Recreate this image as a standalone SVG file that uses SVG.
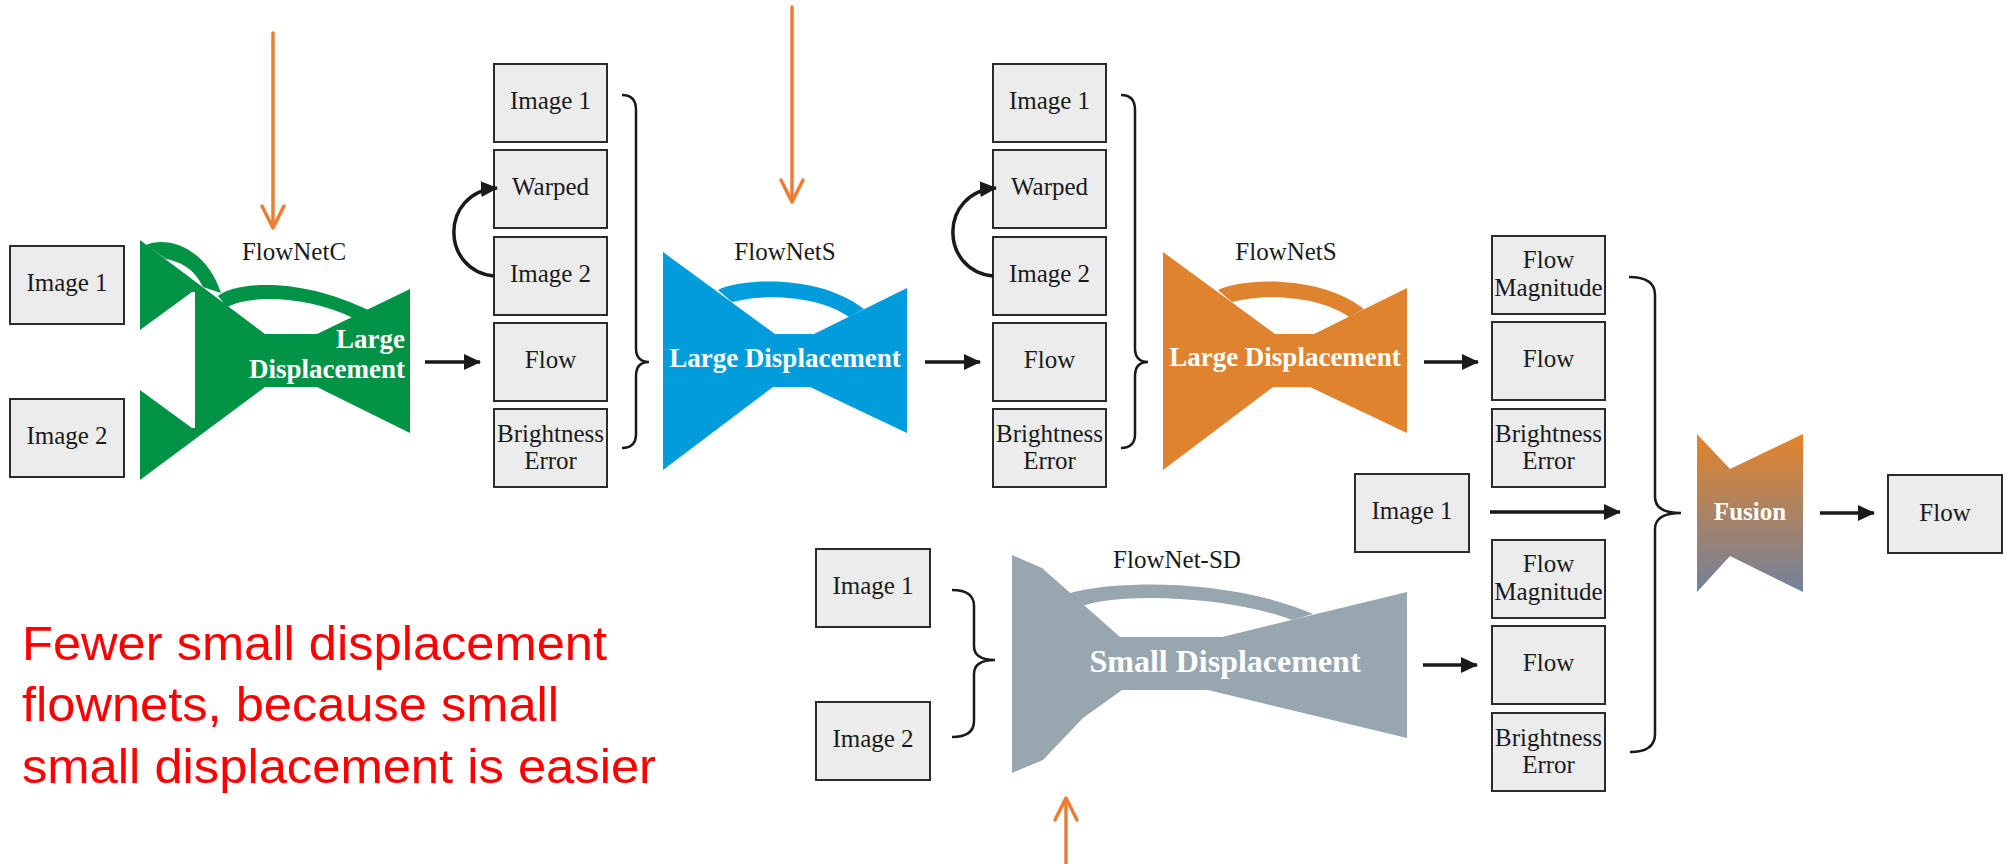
<svg xmlns="http://www.w3.org/2000/svg" width="2007" height="864" viewBox="0 0 2007 864">
<defs>
<style>
.box{fill:#ececec;stroke:#2b2b2b;stroke-width:2}
.lbl{font-family:"Liberation Serif",serif;font-size:25px;fill:#1a1a1a;text-anchor:middle}
.bold{font-family:"Liberation Serif",serif;font-weight:bold;fill:#ffffff;text-anchor:middle}
.conn{stroke:#1a1a1a;stroke-width:3.5;fill:none}
.brace{stroke:#1a1a1a;stroke-width:2.5;fill:none}
.ann{stroke:#ed7d31;stroke-width:3.5;fill:none;stroke-linecap:round;stroke-linejoin:round}
.note{font-family:"Liberation Sans",Arial,sans-serif;font-size:48px;fill:#ff0000}
</style>
<marker id="ah" markerUnits="userSpaceOnUse" markerWidth="17" markerHeight="16" refX="16" refY="8" orient="auto">
<path d="M0,0 L17,8 L0,16 Z" fill="#1a1a1a"/>
</marker>
<linearGradient id="fg" x1="0" y1="0" x2="0" y2="1">
<stop offset="0" stop-color="#e3842c"/>
<stop offset="1" stop-color="#71829c"/>
</linearGradient>
</defs>
<rect width="2007" height="864" fill="#ffffff"/>

<g id="in-image1"><rect class="box" x="10" y="246" width="114" height="78"/><text class="lbl" x="67" y="291">Image 1</text></g>
<g id="in-image2"><rect class="box" x="10" y="399" width="114" height="78"/><text class="lbl" x="67" y="444">Image 2</text></g>

<g id="flownetc" fill="#009245">
<path d="M140,240 L265,334 L317,334 L410,289 L410,433 L317,387 L265,387 L140,480 L140,390 L192,428 L192,292 L140,330 Z"/>
<line x1="193.5" y1="292" x2="193.5" y2="428" stroke="#ffffff" stroke-width="3"/>
<path d="M146,245 C165,236 205,245 221,293 L203,287 C195,271 185,263 166,259 Z"/>
<path d="M218,296 C235,282 300,276 370,311 L353,318 C312,298 255,293 227,307 Z"/>
<text class="lbl" x="294" y="260">FlowNetC</text>
<text class="bold" x="405" y="348" font-size="27" style="text-anchor:end">Large</text>
<text class="bold" x="405" y="378" font-size="27" style="text-anchor:end">Displacement</text>
</g>

<g id="col1">
<rect class="box" x="494" y="64" width="113" height="78"/><text class="lbl" x="550.5" y="109">Image 1</text>
<rect class="box" x="494" y="150" width="113" height="78"/><text class="lbl" x="550.5" y="195">Warped</text>
<rect class="box" x="494" y="237" width="113" height="78"/><text class="lbl" x="550.5" y="282">Image 2</text>
<rect class="box" x="494" y="323" width="113" height="78"/><text class="lbl" x="550.5" y="368">Flow</text>
<rect class="box" x="494" y="409" width="113" height="78"/><text class="lbl" x="550.5" y="442">Brightness</text><text class="lbl" x="550.5" y="469">Error</text>
</g>

<g id="flownets1" fill="#009cdc">
<polygon points="663,252 775,334 814,334 907,288 907,433 810,387 773,387 663,470"/>
<path d="M718,290 C740,278 820,274 864,309 L849,317 C820,296 765,293 732,302 Z"/>
<text class="lbl" x="785" y="260">FlowNetS</text>
<text class="bold" x="785" y="367" font-size="27">Large Displacement</text>
</g>

<g id="col2">
<rect class="box" x="993" y="64" width="113" height="78"/><text class="lbl" x="1049.5" y="109">Image 1</text>
<rect class="box" x="993" y="150" width="113" height="78"/><text class="lbl" x="1049.5" y="195">Warped</text>
<rect class="box" x="993" y="237" width="113" height="78"/><text class="lbl" x="1049.5" y="282">Image 2</text>
<rect class="box" x="993" y="323" width="113" height="78"/><text class="lbl" x="1049.5" y="368">Flow</text>
<rect class="box" x="993" y="409" width="113" height="78"/><text class="lbl" x="1049.5" y="442">Brightness</text><text class="lbl" x="1049.5" y="469">Error</text>
</g>

<g id="flownets2" fill="#e0832f">
<polygon points="1163,252 1275,334 1314,334 1407,288 1407,433 1310,387 1273,387 1163,470"/>
<path d="M1218,290 C1240,278 1320,274 1364,309 L1349,317 C1320,296 1265,293 1232,302 Z"/>
<text class="lbl" x="1286" y="260">FlowNetS</text>
<text class="bold" x="1285" y="366" font-size="27">Large Displacement</text>
</g>

<g id="col3">
<rect class="box" x="1492" y="236" width="113" height="78"/><text class="lbl" x="1548.5" y="268">Flow</text><text class="lbl" x="1548.5" y="296">Magnitude</text>
<rect class="box" x="1492" y="322" width="113" height="78"/><text class="lbl" x="1548.5" y="367">Flow</text>
<rect class="box" x="1492" y="409" width="113" height="78"/><text class="lbl" x="1548.5" y="442">Brightness</text><text class="lbl" x="1548.5" y="469">Error</text>
<rect class="box" x="1492" y="540" width="113" height="78"/><text class="lbl" x="1548.5" y="572">Flow</text><text class="lbl" x="1548.5" y="600">Magnitude</text>
<rect class="box" x="1492" y="626" width="113" height="78"/><text class="lbl" x="1548.5" y="671">Flow</text>
<rect class="box" x="1492" y="713" width="113" height="78"/><text class="lbl" x="1548.5" y="746">Brightness</text><text class="lbl" x="1548.5" y="773">Error</text>
</g>

<g id="mid-image1"><rect class="box" x="1355" y="474" width="114" height="78"/><text class="lbl" x="1412" y="519">Image 1</text></g>

<g id="sd-image1"><rect class="box" x="816" y="549" width="114" height="78"/><text class="lbl" x="873" y="594">Image 1</text></g>
<g id="sd-image2"><rect class="box" x="816" y="702" width="114" height="78"/><text class="lbl" x="873" y="747">Image 2</text></g>

<g id="flownetsd" fill="#98a6af">
<path d="M1012,555 L1042,568 L1120,637 L1222,637 L1407,592 L1407,738 L1208,690 L1122,690 L1083,718 L1043,760 L1012,773 Z"/>
<path d="M1068,594 C1110,580 1230,578 1313,614 L1292,620 C1230,596 1120,592 1082,606 Z"/>
<text class="lbl" x="1177" y="568">FlowNet-SD</text>
<text class="bold" x="1225" y="672" font-size="32">Small Displacement</text>
</g>

<g id="fusion">
<polygon points="1697,434 1730,469 1803,434 1803,592 1730,556 1697,592" fill="url(#fg)"/>
<text class="bold" x="1750" y="520" font-size="25">Fusion</text>
</g>

<g id="out-flow"><rect class="box" x="1888" y="475" width="114" height="78"/><text class="lbl" x="1945" y="521">Flow</text></g>

<g id="connectors">
<line class="conn" x1="425" y1="362" x2="480" y2="362" marker-end="url(#ah)"/>
<line class="conn" x1="925" y1="362" x2="980" y2="362" marker-end="url(#ah)"/>
<line class="conn" x1="1424" y1="362" x2="1478" y2="362" marker-end="url(#ah)"/>
<line class="conn" x1="1490" y1="512" x2="1620" y2="512" marker-end="url(#ah)"/>
<line class="conn" x1="1423" y1="665" x2="1477" y2="665" marker-end="url(#ah)"/>
<line class="conn" x1="1820" y1="513" x2="1874" y2="513" marker-end="url(#ah)"/>
<path class="conn" d="M494,276 C440,270 440,192 497,188" marker-end="url(#ah)"/>
<path class="conn" d="M993,276 C939,270 939,192 996,188" marker-end="url(#ah)"/>
<path class="brace" d="M622,95 Q636,95 636,110 L636,348 Q636,362 649,362 Q636,362 636,376 L636,434 Q636,448 622,448"/>
<path class="brace" d="M1121,95 Q1135,95 1135,110 L1135,348 Q1135,362 1148,362 Q1135,362 1135,376 L1135,434 Q1135,448 1121,448"/>
<path class="brace" d="M1629,277 Q1655,277 1655,295 L1655,497 Q1655,513 1681,513 Q1655,513 1655,529 L1655,734 Q1655,752 1630,752"/>
<path class="brace" d="M952,590 Q974,590 974,606 L974,646 Q974,660 995,660 Q974,660 974,674 L974,721 Q974,737 952,737"/>
</g>

<g id="annotations">
<line class="ann" x1="273" y1="33" x2="273" y2="227"/>
<polyline class="ann" points="262,206 273,228 284,206"/>
<line class="ann" x1="792" y1="7" x2="792" y2="201"/>
<polyline class="ann" points="781,180 792,202 803,180"/>
<line class="ann" x1="1066" y1="864" x2="1066" y2="799"/>
<polyline class="ann" points="1055,820 1066,798 1077,820"/>
<text class="note" x="22" y="660" textLength="585" lengthAdjust="spacingAndGlyphs">Fewer small displacement</text>
<text class="note" x="22" y="721" textLength="537" lengthAdjust="spacingAndGlyphs">flownets, because small</text>
<text class="note" x="22" y="783" textLength="634" lengthAdjust="spacingAndGlyphs">small displacement is easier</text>
</g>
</svg>
